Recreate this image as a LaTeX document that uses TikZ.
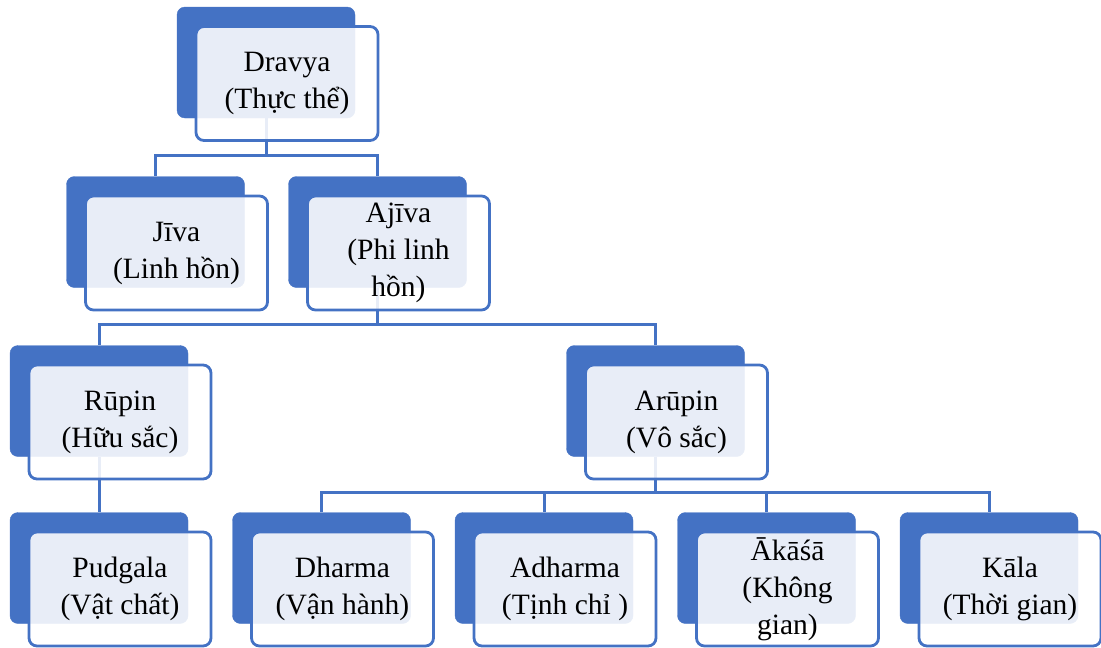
\documentclass[tikz,border=0pt]{standalone}
\usepackage{fontspec}
\setmainfont{Liberation Serif}
\definecolor{boxblue}{HTML}{4472C4}
\tikzset{
  back/.style={fill=boxblue, draw=boxblue, rounded corners=8pt, minimum width=178pt, minimum height=111pt, inner sep=0pt},
  front/.style={fill=white, fill opacity=0.88, text opacity=1, draw=boxblue, line width=2.8pt, rounded corners=8pt, minimum width=182pt, minimum height=114pt, inner sep=0pt, align=center, font=\fontsize{29.5}{37}\selectfont},
  link/.style={draw=boxblue, line width=3pt}
}
\begin{document}
\begin{tikzpicture}[x=1pt, y=-1pt]
\useasboundingbox (0,0) rectangle (1101,648);
% back boxes
\node[back] (dravya) at (266,62.5) {};
\node[back] (jiva) at (155.5,232) {};
\node[back] (ajiva) at (377.5,232) {};
\node[back] (rupin) at (99,401) {};
\node[back] (arupin) at (655.5,401) {};
\node[back] (pudgala) at (99,568) {};
\node[back] (dharma) at (321.5,568) {};
\node[back] (adharma) at (544,568) {};
\node[back] (akasa) at (766.5,568) {};
\node[back] (kala) at (989,568) {};
% connectors
\path[link] (dravya.south) -- ++(0,37) -| (jiva.north);
\path[link] (dravya.south) -- ++(0,37) -| (ajiva.north);
\path[link] (ajiva.south) -- ++(0,37) -| (rupin.north);
\path[link] (ajiva.south) -- ++(0,37) -| (arupin.north);
\path[link] (rupin.south) -- (pudgala.north);
\path[link] (arupin.south) -- ++(0,36) -| (dharma.north);
\path[link] (arupin.south) -- ++(0,36) -| (adharma.north);
\path[link] (arupin.south) -- ++(0,36) -| (akasa.north);
\path[link] (arupin.south) -- ++(0,36) -| (kala.north);
% front boxes
\node[front] (dravya-f) at ([shift={(21,21)}]dravya.center) {Dravya\\(Thực thể)};
\node[front] (jiva-f) at ([shift={(21,21)}]jiva.center) {Jīva\\(Linh hồn)};
\node[front] (ajiva-f) at ([shift={(21,21)}]ajiva.center) {Ajīva\\(Phi linh\\hồn)};
\node[front] (rupin-f) at ([shift={(21,21)}]rupin.center) {Rūpin\\(Hữu sắc)};
\node[front] (arupin-f) at ([shift={(21,21)}]arupin.center) {Arūpin\\(Vô sắc)};
\node[front] (pudgala-f) at ([shift={(21,21)}]pudgala.center) {Pudgala\\(Vật chất)};
\node[front] (dharma-f) at ([shift={(21,21)}]dharma.center) {Dharma\\(Vận hành)};
\node[front] (adharma-f) at ([shift={(21,21)}]adharma.center) {Adharma\\(Tịnh chỉ )};
\node[front] (akasa-f) at ([shift={(21,21)}]akasa.center) {Ākāśā\\(Không\\gian)};
\node[front] (kala-f) at ([shift={(21,21)}]kala.center) {Kāla\\(Thời gian)};
\end{tikzpicture}
\end{document}
